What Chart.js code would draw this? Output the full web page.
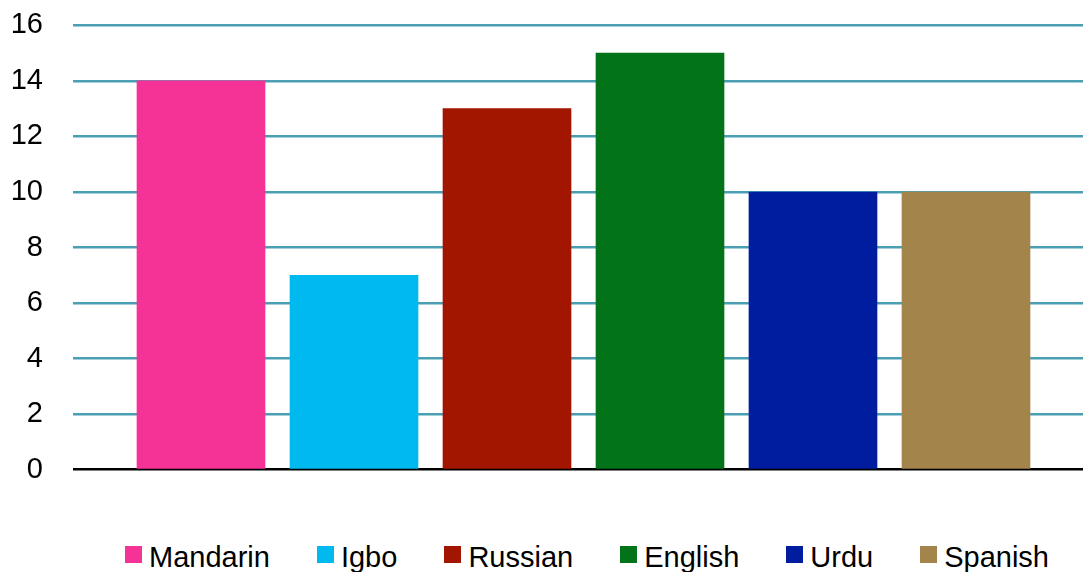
<!DOCTYPE html>
<html>
<head>
<meta charset="utf-8">
<title>Languages</title>
<script src="https://cdn.jsdelivr.net/npm/chart.js@4/dist/chart.umd.min.js"></script>
<style>
  html, body { margin: 0; padding: 0; background: #fff; overflow: hidden; }
  #wrap { position: relative; width: 1083px; height: 572px; overflow: hidden; }
  #chartBox { position: absolute; left: 0; top: -22px; width: 1083px; height: 539px; }
  #legend {
    position: absolute; left: 91px; top: 541px; width: 992px;
    display: flex; justify-content: center; gap: 47px;
    font-family: "Liberation Sans", Arial, Helvetica, sans-serif;
    font-size: 29px; line-height: 32px; color: #000; white-space: nowrap;
  }
  .item { display: flex; align-items: flex-start; }
  .swatch { width: 17px; height: 17px; margin-top: 5px; margin-right: 7px; }
</style>
</head>
<body>
<div id="wrap">
  <div id="chartBox"><canvas id="langChart"></canvas></div>
  <div id="legend"></div>
</div>
<script>
// bar values per language
const categories = ['Mandarin', 'Igbo', 'Russian', 'English', 'Urdu', 'Spanish'];
const values = [14, 7, 13, 15, 10, 10];
const barColors = ['#F53296', '#00B9EE', '#A21600', '#027318', '#001DA0', '#A3844B'];
const yTicks = [0, 2, 4, 6, 8, 10, 12, 14, 16];

const FONT = '"Liberation Sans", Arial, Helvetica, sans-serif';
const GRID_COLOR = '#4B9FB4';

// legend row under the chart
const legendEl = document.getElementById('legend');
categories.forEach((name, i) => {
    const item = document.createElement('div');
    item.className = 'item';
    const sw = document.createElement('span');
    sw.className = 'swatch';
    sw.style.background = barColors[i];
    const label = document.createElement('span');
    label.textContent = name;
    item.appendChild(sw);
    item.appendChild(label);
    legendEl.appendChild(item);
});

const points = categories.map((c, i) => ({ x: i, y: values[i] }));

new Chart(document.getElementById('langChart'), {
    type: 'bar',
    data: {
        datasets: [{
            label: 'Languages',
            data: points,
            backgroundColor: barColors,
            borderWidth: 0,
            barThickness: 128,
        }]
    },
    options: {
        responsive: true,
        maintainAspectRatio: false,
        animation: false,
        layout: { padding: { top: 8, right: 0, bottom: 4, left: 0 } },
        plugins: {
            legend: { display: false },
            tooltip: { enabled: false },
        },
        scales: {
            x: {
                type: 'linear',
                display: false,
                offset: false,
                min: -0.8366,
                max: 5.7647,
            },
            y: {
                min: 0,
                max: 16,
                afterFit: (scale) => { scale.width = 73; },
                afterBuildTicks: (scale) => { scale.ticks = yTicks.map(v => ({ value: v })); },
                border: { display: false },
                grid: {
                    drawTicks: false,
                    lineWidth: 2.5,
                    color: (ctx) => (ctx.tick && ctx.tick.value === 0) ? '#000' : GRID_COLOR,
                },
                ticks: {
                    padding: 30,
                    color: '#000',
                    font: { family: FONT, size: 29 },
                },
            },
        },
    },
});
</script>
</body>
</html>
